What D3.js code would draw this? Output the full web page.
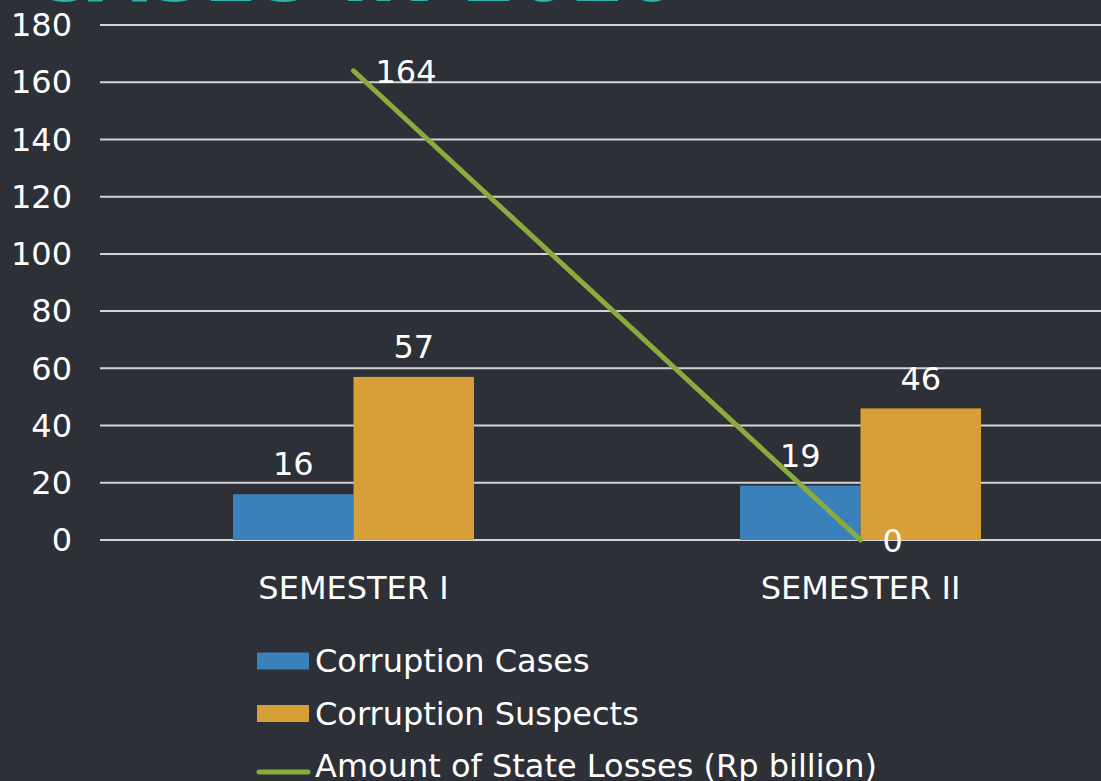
<!DOCTYPE html>
<html>
<head>
<meta charset="utf-8">
<script src="https://cdn.jsdelivr.net/npm/d3@7"></script>
<style>
  body { margin: 0; background: #2e3038; }
  svg { display: block; font-family: "DejaVu Sans", sans-serif; }
</style>
</head>
<body>
<script>
var w = 1101, h = 781;

// data
var categories = ['SEMESTER I', 'SEMESTER II'];
var cases = [16, 19];
var suspects = [57, 46];
var losses = [164, 0];
var yTicks = [0, 20, 40, 60, 80, 100, 120, 140, 160, 180];
var seriesNames = ['Corruption Cases', 'Corruption Suspects', 'Amount of State Losses (Rp billion)'];
var colors = ['#3a80ba', '#d89e37', '#8aab3e'];

var svg = d3.select('body').append('svg')
    .attr('width', w)
    .attr('height', h);

// title, mostly above the visible area
svg.append('text')
    .attr('x', 30)
    .attr('y', 1)
    .attr('fill', '#2db3a8')
    .style('font-size', '78px')
    .style('font-weight', 'bold')
    .text('CASES IN 2020');

var x = d3.scaleBand()
    .domain(categories)
    .range([100, 1114])
    .padding(0);

var y = d3.scaleLinear()
    .domain([0, 180])
    .range([540, 25]);

var barW = 120.5;
var fs = '32px';

// gridlines
svg.append('g')
    .selectAll('line')
    .data(yTicks)
    .enter().append('line')
    .attr('x1', 100)
    .attr('x2', w)
    .attr('y1', function(d) { return y(d); })
    .attr('y2', function(d) { return y(d); })
    .attr('stroke', '#d4d4d4')
    .attr('stroke-width', 2);

// y axis labels
svg.append('g')
    .selectAll('text')
    .data(yTicks)
    .enter().append('text')
    .attr('x', 72)
    .attr('y', function(d) { return y(d); })
    .attr('dy', '0.35em')
    .attr('text-anchor', 'end')
    .attr('fill', '#fff')
    .style('font-size', fs)
    .text(function(d) { return d; });

// category labels
svg.append('g')
    .selectAll('text')
    .data(categories)
    .enter().append('text')
    .attr('x', function(d) { return x(d) + x.bandwidth() / 2; })
    .attr('y', 588)
    .attr('dy', '0.35em')
    .attr('text-anchor', 'middle')
    .attr('fill', '#fff')
    .style('font-size', fs)
    .text(function(d) { return d; });

var mid = function(i) { return x(categories[i]) + x.bandwidth() / 2; };

// bars
[cases, suspects].forEach(function(vals, s) {
    var g = svg.append('g');
    g.selectAll('rect')
        .data(vals)
        .enter().append('rect')
        .attr('x', function(d, i) { return mid(i) - barW + s * barW; })
        .attr('y', function(d) { return y(d); })
        .attr('width', barW)
        .attr('height', function(d) { return y(0) - y(d); })
        .attr('fill', colors[s]);
    g.selectAll('text')
        .data(vals)
        .enter().append('text')
        .attr('x', function(d, i) { return mid(i) - barW / 2 + s * barW; })
        .attr('y', function(d) { return y(d) - 30; })
        .attr('dy', '0.35em')
        .attr('text-anchor', 'middle')
        .attr('fill', '#fff')
        .style('font-size', fs)
        .text(function(d) { return d; });
});

// line
var line = d3.line()
    .x(function(d, i) { return mid(i); })
    .y(function(d) { return y(d); });

svg.append('path')
    .datum(losses)
    .attr('d', line)
    .attr('fill', 'none')
    .attr('stroke', colors[2])
    .attr('stroke-width', 5)
    .attr('stroke-linecap', 'round');

svg.append('g')
    .selectAll('text')
    .data(losses)
    .enter().append('text')
    .attr('x', function(d, i) { return mid(i) + 22; })
    .attr('y', function(d) { return y(d) + 1; })
    .attr('dy', '0.35em')
    .attr('fill', '#fff')
    .style('font-size', fs)
    .text(function(d) { return d; });

// legend
var legend = svg.append('g')
    .selectAll('g')
    .data(seriesNames)
    .enter().append('g')
    .attr('transform', function(d, i) { return 'translate(257,' + (661 + i * 52.5) + ')'; });

legend.each(function(d, i) {
    var g = d3.select(this);
    if (i < 2) {
        g.append('rect')
            .attr('x', 0).attr('y', -8.5)
            .attr('width', 52).attr('height', 17)
            .attr('fill', colors[i]);
    } else {
        g.append('line')
            .attr('x1', 2).attr('x2', 51)
            .attr('y1', 6).attr('y2', 6)
            .attr('stroke', colors[i])
            .attr('stroke-width', 5)
            .attr('stroke-linecap', 'round');
    }
    g.append('text')
        .attr('x', 58)
        .attr('y', 0)
        .attr('dy', '0.35em')
        .attr('fill', '#fff')
        .style('font-size', fs)
        .text(d);
});
</script>
</body>
</html>
